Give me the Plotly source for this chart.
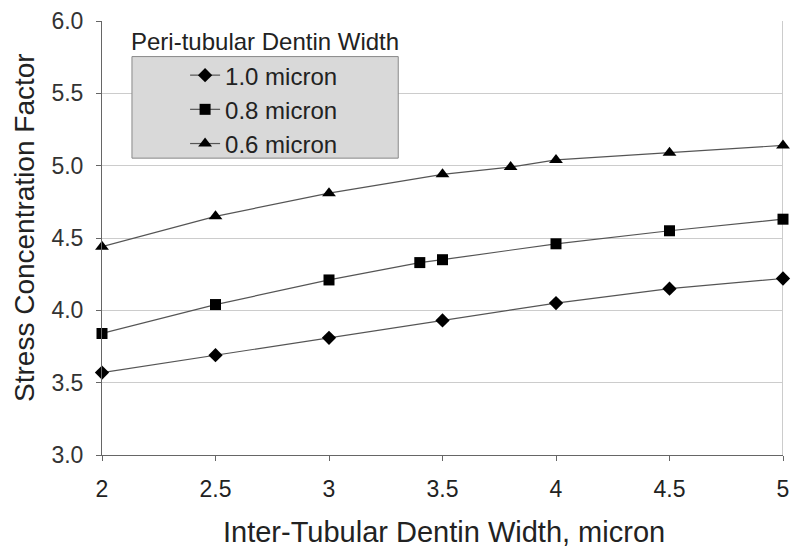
import plotly.graph_objects as go

x_d = [2, 2.5, 3, 3.5, 4, 4.5, 5]
y_10 = [3.57, 3.69, 3.81, 3.93, 4.05, 4.15, 4.22]
x_s = [2, 2.5, 3, 3.4, 3.5, 4, 4.5, 5]
y_08 = [3.84, 4.04, 4.21, 4.33, 4.35, 4.46, 4.55, 4.63]
x_t = [2, 2.5, 3, 3.5, 3.8, 4, 4.5, 5]
y_06 = [4.44, 4.65, 4.81, 4.94, 4.99, 5.04, 5.09, 5.14]
names = ["1.0 micron", "0.8 micron", "0.6 micron"]
x_ticks = [2, 2.5, 3, 3.5, 4, 4.5, 5]
x_tick_labels = ["2", "2.5", "3", "3.5", "4", "4.5", "5"]
y_ticks = [3.0, 3.5, 4.0, 4.5, 5.0, 5.5, 6.0]
y_tick_labels = ["3.0", "3.5", "4.0", "4.5", "5.0", "5.5", "6.0"]

fig = go.Figure()
series = [(x_d, y_10, "diamond", 11), (x_s, y_08, "square", 11), (x_t, y_06, "triangle-up", 12)]
for (xs, ys, sym, sz), nm in zip(series, names):
    fig.add_trace(go.Scatter(
        x=xs, y=ys, name=nm, mode="lines+markers",
        line=dict(color="#555555", width=1.2),
        marker=dict(symbol=sym, size=sz, color="#000000"),
        cliponaxis=False,
    ))

fig.update_layout(
    width=800, height=556,
    margin=dict(l=94, r=25, t=13, b=109),
    paper_bgcolor="white", plot_bgcolor="white",
    font=dict(family="Liberation Sans, Arial, sans-serif", color="#222222"),
    showlegend=True,
    legend=dict(
        x=0.122, y=0.796, xanchor="left", yanchor="middle",
        bgcolor="rgba(0,0,0,0)", borderwidth=0,
        font=dict(size=24, color="#222222"),
        itemwidth=30, tracegroupgap=0,
    ),
    xaxis=dict(
        range=[2, 5], tickvals=x_ticks, ticktext=x_tick_labels,
        showgrid=False, zeroline=False, automargin=False,
        showline=True, linecolor="#666666", linewidth=1,
        ticks="outside", ticklen=5, tickcolor="#666666",
        tickfont=dict(size=23, color="#222222"),
        ticklabelstandoff=8, ticklabeloverflow="allow",
    ),
    yaxis=dict(
        range=[3, 6], tickvals=y_ticks, ticktext=y_tick_labels,
        showgrid=True, gridcolor="#cccccc", gridwidth=1, zeroline=False, automargin=False,
        showline=True, linecolor="#666666", linewidth=1,
        ticks="outside", ticklen=5, tickcolor="#666666",
        tickfont=dict(size=23, color="#333333"),
        ticklabelstandoff=8, ticklabeloverflow="allow",
    ),
    shapes=[
        dict(type="line", xref="x", yref="paper", x0=5, x1=5, y0=0, y1=1,
             line=dict(color="#bbbbbb", width=1.5), layer="below"),
        dict(type="rect", xref="paper", yref="paper", x0=0.044, x1=0.435, y0=0.684, y1=0.918,
             fillcolor="#d9d9d9", line=dict(color="#888888", width=1), layer="above"),
    ],
    annotations=[
        dict(text="Peri-tubular Dentin Width", xref="paper", yref="paper",
             x=0.239, y=0.953, xanchor="center", yanchor="middle", showarrow=False,
             font=dict(size=24, color="#222222")),
        dict(text="Inter-Tubular Dentin Width, micron", xref="paper", yref="paper",
             x=0.502, y=-0.177, xanchor="center", yanchor="middle", showarrow=False,
             font=dict(size=29, color="#222222")),
        dict(text="Stress Concentration Factor", xref="paper", yref="paper",
             x=-0.114, y=0.524, xanchor="center", yanchor="middle", showarrow=False,
             textangle=-90, font=dict(size=28, color="#222222")),
    ],
)

fig.write_html("out.html")
